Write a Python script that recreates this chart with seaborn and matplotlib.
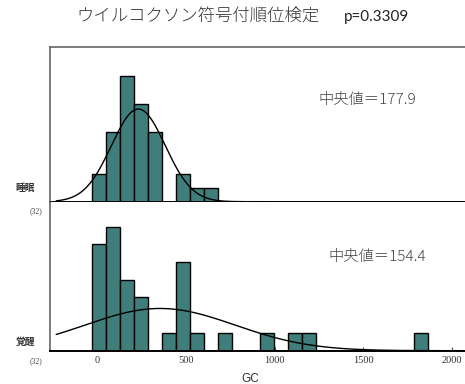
import numpy as np
import pandas as pd
import matplotlib
matplotlib.use("Agg")
import matplotlib.pyplot as plt
import seaborn as sns

sns.set_style("white")
plt.rcParams["font.family"] = ["Noto Sans CJK JP", "DejaVu Sans"]

# Histogram bins (GC) shared by both groups
bin_start = -30.0
bin_width = 78.9
n_bins = 24

# Counts per bin
sleep_counts = [2, 5, 9, 7, 5, 0, 2, 1, 1, 0, 0, 0, 0, 0, 0, 0, 0, 0, 0, 0, 0, 0, 0, 0]
wake_counts = [6, 7, 4, 3, 0, 1, 5, 1, 0, 1, 0, 0, 1, 0, 1, 1, 0, 0, 0, 0, 0, 0, 0, 1]

# Fitted normal curves (mean, sd) and medians
sleep_mean, sleep_sd = 232.7, 151.5
wake_mean, wake_sd = 355.0, 423.0
sleep_median = 177.9
wake_median = 154.4
n_sleep, n_wake = 32, 32
p_value = 0.3309

group_labels = ["睡眠", "覚醒"]
x_ticks = [0, 500, 1000, 1500, 2000]

edges = bin_start + bin_width * np.arange(n_bins + 1)
centers = (edges[:-1] + edges[1:]) / 2

BAR = "#3f7e7b"
XLIM = (-265, 2073)

fig = plt.figure(figsize=(4.65, 3.84), dpi=100)
ax_top = fig.add_axes([50 / 465, (384 - 201.7) / 384, 415 / 465, 154.7 / 384])
ax_bot = fig.add_axes([50 / 465, (384 - 350.7) / 384, 415 / 465, 149.0 / 384])


def draw_panel(ax, counts, mean, sd, n, ymax):
    df = pd.DataFrame({"GC": centers, "count": np.asarray(counts, dtype=float)})
    sns.histplot(data=df, x="GC", weights="count", binwidth=bin_width,
                 binrange=(float(edges[0]), float(edges[-1])), ax=ax,
                 color=BAR, alpha=1.0, edgecolor="black", linewidth=1.0)
    xs = np.linspace(-230, 2060, 400)
    ys = n * bin_width * np.exp(-0.5 * ((xs - mean) / sd) ** 2) / (sd * np.sqrt(2 * np.pi))
    sns.lineplot(x=xs, y=ys, ax=ax, color="black", linewidth=1.0)
    ax.set_xlim(*XLIM)
    ax.set_ylim(0, ymax)
    ax.set_yticks([])
    ax.set_ylabel("")
    ax.set_xlabel("")
    for s in ["left", "right", "top", "bottom"]:
        ax.spines[s].set_visible(False)
    ax.spines["left"].set_visible(True)
    ax.spines["left"].set_color("#666666")
    ax.spines["left"].set_linewidth(1.2)
    ax.spines["bottom"].set_visible(True)
    ax.spines["bottom"].set_color("black")
    ax.spines["bottom"].set_linewidth(1.4)


draw_panel(ax_top, sleep_counts, sleep_mean, sleep_sd, n_sleep, 11.1)
draw_panel(ax_bot, wake_counts, wake_mean, wake_sd, n_wake, 8.4)

ax_top.spines["top"].set_visible(True)
ax_top.spines["top"].set_color("#666666")
ax_top.spines["top"].set_linewidth(1.2)
ax_top.set_xticks([])

ax_bot.set_xticks(x_ticks)
ax_bot.set_xticklabels([str(t) for t in x_ticks], family="Liberation Serif",
                       fontsize=7.5, color="#333333")
ax_bot.tick_params(axis="x", direction="in", length=3, width=0.8,
                   bottom=True, pad=4, color="#555555")

# Median annotations
fig.text(367 / 465, 1 - 100 / 384, f"中央値＝{sleep_median}", ha="center", va="center",
         fontsize=11, color="#444444", fontweight="light")
fig.text(377 / 465, 1 - 256.7 / 384, f"中央値＝{wake_median}", ha="center", va="center",
         fontsize=11, color="#444444", fontweight="light")

# Group labels with sample sizes
fig.text(25 / 465, 1 - 188 / 384, group_labels[0], ha="center", va="center",
         fontsize=7, color="#333333", fontweight="bold")
fig.text(36 / 465, 1 - 211 / 384, f"({n_sleep})", ha="center", va="center",
         fontsize=5.5, family="Liberation Serif", color="#444444")
fig.text(25 / 465, 1 - 342 / 384, group_labels[1], ha="center", va="center",
         fontsize=7, color="#333333", fontweight="bold")
fig.text(36 / 465, 1 - 361 / 384, f"({n_wake})", ha="center", va="center",
         fontsize=5.5, family="Liberation Serif", color="#444444")

# Axis title
fig.text(250 / 465, 1 - 379 / 384, "GC", ha="center", va="center",
         fontsize=8.5, family="Liberation Sans", color="#333333")

# Test title
fig.text(198 / 465, 1 - 17 / 384, "ウイルコクソン符号付順位検定", ha="center", va="center",
         fontsize=12.5, color="#333333", fontweight="light")
fig.text(376 / 465, 1 - 17 / 384, f"p={p_value}", ha="center", va="center",
         fontsize=11, family="Lato", color="#222222")

fig.savefig("out.png", dpi=100)
